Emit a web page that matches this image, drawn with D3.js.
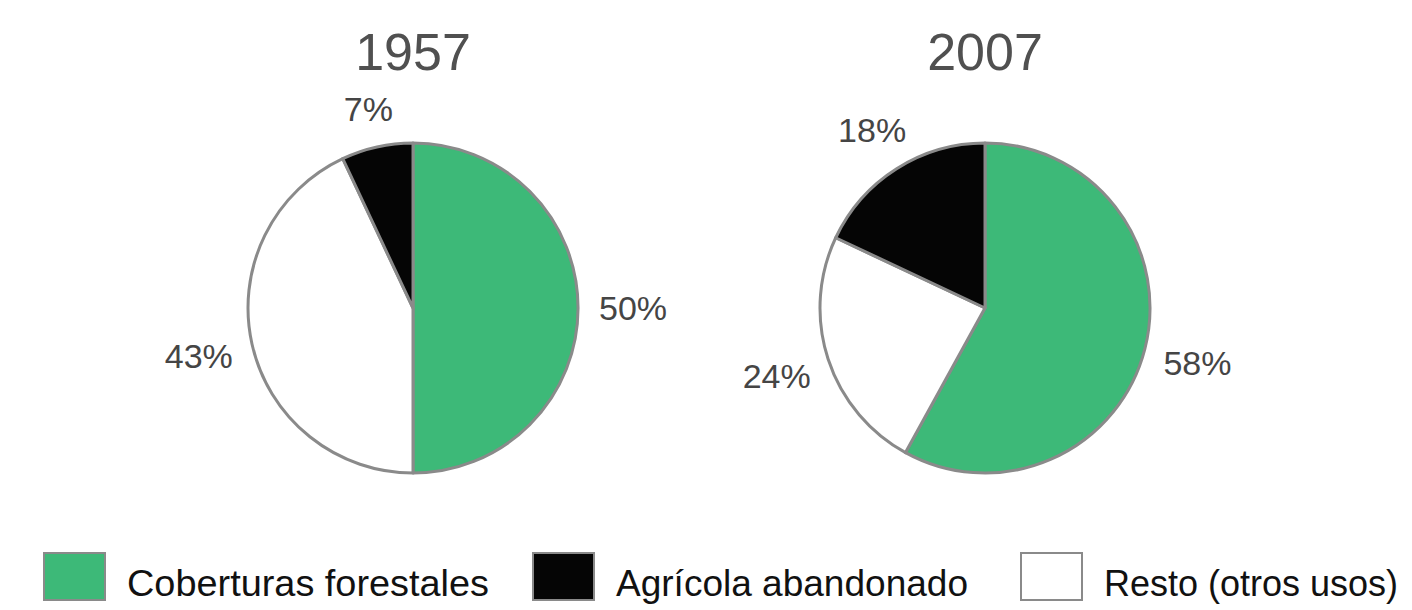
<!DOCTYPE html>
<html>
<head>
<meta charset="utf-8">
<script src="https://cdn.jsdelivr.net/npm/d3@7"></script>
<style>
  html, body { margin: 0; padding: 0; background: #fff; }
  svg { display: block; }
</style>
</head>
<body>
<svg id="chart" width="1412" height="610"></svg>
<script>
const categories = ["Coberturas forestales", "Resto (otros usos)", "Agrícola abandonado"];
const years = ["1957", "2007"];
const values1957 = [50, 43, 7];
const values2007 = [58, 24, 18];
const legendOrder = ["Coberturas forestales", "Agrícola abandonado", "Resto (otros usos)"];
const colors = { "Coberturas forestales": "#3db978", "Agrícola abandonado": "#050505", "Resto (otros usos)": "#ffffff" };

const svg = d3.select("#chart");
const centersX = d3.scaleOrdinal().domain(years).range([413, 985]);
const cy = 308, R = 165;

const pie = d3.pie().sort(null).value(d => d.v);
const arc = d3.arc().innerRadius(0).outerRadius(R);
const font = "'Liberation Sans', Arial, sans-serif";

function labelPos(d) {
  const a = (d.startAngle + d.endAngle) / 2;
  const r = 200 + 20 * Math.abs(Math.sin(a));
  return [r * Math.sin(a), -r * Math.cos(a)];
}

[values1957, values2007].forEach((vals, i) => {
  const yr = years[i];
  const g = svg.append("g").attr("transform", `translate(${centersX(yr)},${cy})`);
  const data = pie(categories.map((c, k) => ({ c, v: vals[k] })));
  g.selectAll("path.slice").data(data).join("path")
    .attr("class", "slice")
    .attr("d", arc)
    .attr("fill", d => colors[d.data.c])
    .attr("stroke", "#8a8a8a")
    .attr("stroke-width", 3)
    .attr("stroke-linejoin", "round");
  g.selectAll("text.lbl").data(data).join("text")
    .attr("class", "lbl")
    .attr("x", d => labelPos(d)[0])
    .attr("y", d => labelPos(d)[1])
    .attr("text-anchor", "middle")
    .attr("dominant-baseline", "central")
    .attr("font-family", font)
    .attr("font-size", 34)
    .attr("fill", "#454545")
    .text(d => d.data.v + "%");
  svg.append("text")
    .attr("x", centersX(yr))
    .attr("y", 70)
    .attr("text-anchor", "middle")
    .attr("font-family", font)
    .attr("font-size", 52)
    .attr("fill", "#505050")
    .text(yr);
});

const legX = d3.scaleOrdinal().domain(legendOrder).range([44, 533, 1021]);
const legTextLen = { "Coberturas forestales": 362, "Agrícola abandonado": 352, "Resto (otros usos)": 294 };
const lg = svg.append("g");
legendOrder.forEach(c => {
  lg.append("rect")
    .attr("x", legX(c)).attr("y", 553)
    .attr("width", 61).attr("height", 47)
    .attr("fill", colors[c])
    .attr("stroke", "#8a8a8a").attr("stroke-width", 2);
  lg.append("text")
    .attr("x", legX(c) + 83).attr("y", 596)
    .attr("font-family", font)
    .attr("font-size", 36)
    .attr("textLength", legTextLen[c])
    .attr("lengthAdjust", "spacingAndGlyphs")
    .attr("fill", "#111")
    .text(c);
});
</script>
</body>
</html>
